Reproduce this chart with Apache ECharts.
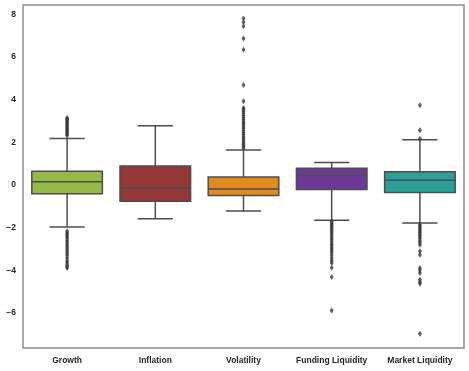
<!DOCTYPE html>
<html><head><meta charset="utf-8">
<script src="https://cdn.jsdelivr.net/npm/echarts@6/dist/echarts.min.js"></script>
<style>html,body{margin:0;padding:0;background:#fff}#c{width:469px;height:371px}</style>
</head><body><div id="c"></div>
<script>
const categories = ['Growth', 'Inflation', 'Volatility', 'Funding Liquidity', 'Market Liquidity'];
const boxColors = ['#93bb45', '#943838', '#e08a1f', '#6c3a96', '#2ca096'];
const lowerWhisker = [-1.97, -1.58, -1.22, -1.66, -1.78];
const q1Values = [-0.41, -0.77, -0.49, -0.21, -0.35];
const medianValues = [0.15, -0.14, -0.19, 0.45, 0.22];
const q3Values = [0.64, 0.89, 0.37, 0.78, 0.62];
const upperWhisker = [2.18, 2.77, 1.64, 1.05, 2.12];
const growthOutliers = [2.32, 2.38, 2.45, 2.5, 2.56, 2.62, 2.68, 2.75, 2.82, 2.88, 2.95, 3.0, 3.05, 3.1, 3.14,
  -2.17, -2.25, -2.33, -2.42, -2.5, -2.6, -2.7, -2.8, -2.9, -3.0, -3.1, -3.2, -3.3, -3.42, -3.55, -3.65, -3.75, -3.82, -3.89];
const inflationOutliers = [];
const volatilityOutliers = [1.72, 1.8, 1.88, 1.95, 2.05, 2.15, 2.25, 2.35, 2.45, 2.55, 2.65, 2.75, 2.85, 2.95, 3.05, 3.15, 3.25, 3.35, 3.45, 3.53, 3.61, 3.92, 4.68, 6.33, 6.86, 7.44, 7.62, 7.8];
const fundingOutliers = [-1.71, -1.78, -1.85, -1.92, -2.0, -2.08, -2.16, -2.25, -2.35, -2.45, -2.55, -2.65, -2.75, -2.85, -2.95, -3.05, -3.15, -3.28, -3.42, -3.55, -3.66, -3.88, -4.31, -5.88];
const marketOutliers = [2.16, 2.56, 3.73, -1.85, -1.92, -2.0, -2.08, -2.16, -2.24, -2.32, -2.4, -2.5, -2.6, -2.7, -2.8, -3.11, -3.27, -3.89, -4.0, -4.13, -4.44, -4.55, -4.63, -6.97];
const yTicks = [-6, -4, -2, 0, 2, 4, 6, 8];
const yMin = -7.64, yMax = 8.43;

const outlierSets = [growthOutliers, inflationOutliers, volatilityOutliers, fundingOutliers, marketOutliers];
const boxData = categories.map((c, i) => [i, lowerWhisker[i], q1Values[i], medianValues[i], q3Values[i], upperWhisker[i]]);
const outlierData = [];
outlierSets.forEach((arr, i) => arr.forEach(v => outlierData.push([i, v])));

const lineColor = '#4d4d4d';
const chart = echarts.init(document.getElementById('c'), null, {renderer: 'canvas'});
chart.setOption({
  animation: false,
  backgroundColor: '#fff',
  grid: {left: 23, right: 5, top: 5, bottom: 23, show: true, borderColor: '#8c8c8c', borderWidth: 1.5, backgroundColor: 'transparent'},
  xAxis: {
    type: 'category', data: categories, boundaryGap: true,
    axisLine: {show: false}, axisTick: {show: false}, splitLine: {show: false},
    axisLabel: {fontFamily: 'Liberation Sans', fontWeight: 'bold', fontSize: 8.5, color: '#262626', margin: 8, interval: 0}
  },
  yAxis: {
    type: 'value', min: yMin, max: yMax,
    axisLine: {show: false}, axisTick: {show: false}, splitLine: {show: false},
    axisLabel: {customValues: yTicks, fontFamily: 'Liberation Sans', fontWeight: 'bold', fontSize: 8.5, color: '#262626', margin: 7,
      formatter: v => String(v).replace('-', '\u2212')}
  },
  series: [
    {
      type: 'scatter', data: outlierData, symbol: 'diamond', symbolSize: [4, 6],
      itemStyle: {color: '#3a3a3a'}, z: 3
    },
    {
      type: 'custom', data: boxData, encode: {x: 0, y: [1, 2, 3, 4, 5]}, z: 2,
      renderItem: function (params, api) {
        const i = api.value(0);
        const band = api.size([1, 0])[0];
        const half = band * 0.4;
        const cap = half / 2;
        const x = api.coord([i, 0])[0];
        const yLw = api.coord([i, api.value(1)])[1];
        const yQ1 = api.coord([i, api.value(2)])[1];
        const yMed = api.coord([i, api.value(3)])[1];
        const yQ3 = api.coord([i, api.value(4)])[1];
        const yUw = api.coord([i, api.value(5)])[1];
        const st = {stroke: lineColor, lineWidth: 1.5, fill: null};
        return {
          type: 'group',
          children: [
            {type: 'line', shape: {x1: x, y1: yQ3, x2: x, y2: yUw}, style: st},
            {type: 'line', shape: {x1: x, y1: yQ1, x2: x, y2: yLw}, style: st},
            {type: 'line', shape: {x1: x - cap, y1: yUw, x2: x + cap, y2: yUw}, style: st},
            {type: 'line', shape: {x1: x - cap, y1: yLw, x2: x + cap, y2: yLw}, style: st},
            {type: 'rect', shape: {x: x - half, y: yQ3, width: 2 * half, height: yQ1 - yQ3},
              style: {fill: boxColors[params.dataIndex], stroke: lineColor, lineWidth: 1.5}},
            {type: 'line', shape: {x1: x - half, y1: yMed, x2: x + half, y2: yMed}, style: st}
          ]
        };
      }
    }
  ]
});
</script></body></html>
